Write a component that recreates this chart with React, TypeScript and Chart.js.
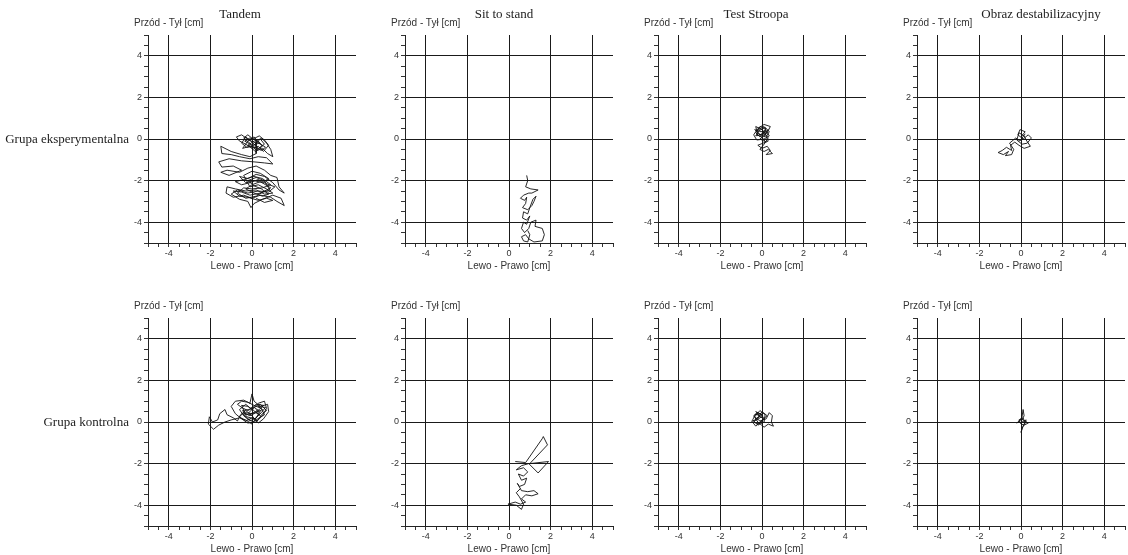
import React, { useEffect, useRef } from 'react';
import { Chart, registerables } from 'chart.js';

Chart.register(...registerables);

const columnTitles = ['Tandem', 'Sit to stand', 'Test Stroopa', 'Obraz destabilizacyjny'];
const rowLabels = ['Grupa eksperymentalna', 'Grupa kontrolna'];
const majorTicks = [-4, -2, 0, 2, 4];
const xAxisTitle = 'Lewo - Prawo [cm]';
const yAxisTitle = 'Przód - Tył [cm]';

// COP traces [x, y] in cm
const tandemExp: number[][] = [
  [0.1, -0.3], [0.3, -0.1], [0.5, -0.35], [0.2, -0.55], [-0.1, -0.2], [-0.4, 0.05], [-0.2, 0.2], [0.05, 0.0],
  [0.35, 0.15], [0.6, -0.05], [0.8, -0.3], [0.55, -0.6], [0.3, -0.35], [0.0, -0.45], [-0.3, -0.25], [-0.6, -0.1],
  [-0.75, 0.1], [-0.5, 0.2], [-0.15, -0.05], [0.2, -0.2], [0.45, 0.05], [0.7, -0.2], [0.9, -0.5], [1.0, -0.85],
  [0.75, -0.7], [0.5, -0.45], [0.15, -0.6], [-0.1, -0.35], [-0.45, -0.45], [-0.2, -0.1], [0.1, 0.1], [0.4, -0.25],
  [0.25, -0.15], [0.05, -0.35], [-0.25, -0.4], [-0.5, -0.2], [-0.3, 0.1], [0.0, -0.15], [0.3, -0.45], [0.6, -0.25],
  [0.4, 0.0], [0.1, -0.1], [-0.2, -0.3], [0.15, -0.4], [0.45, -0.55], [0.65, -0.4], [0.35, -0.2], [0.0, -0.3],
  [-0.35, -0.1], [-0.1, 0.05], [0.2, -0.05],
  [0.2, -0.7], [-0.1, -0.85], [-0.5, -0.75], [-1.0, -0.6], [-1.5, -0.35], [-1.45, -0.7], [-1.0, -0.75], [-0.6, -0.85],
  [-0.1, -0.95], [0.3, -0.85], [0.7, -0.9], [1.0, -1.2], [0.6, -1.15], [0.1, -1.1], [-0.5, -1.05], [-1.1, -0.95],
  [-1.6, -1.1], [-1.45, -1.35], [-0.9, -1.3], [-0.5, -1.5], [-1.1, -1.75], [-1.5, -1.6], [-1.2, -1.5], [-0.6, -1.6],
  [-0.2, -1.4], [0.2, -1.3], [0.6, -1.5], [0.9, -1.75], [1.2, -1.85], [1.3, -2.3], [1.55, -2.6], [1.3, -2.45],
  [1.0, -2.1], [0.6, -1.8], [0.2, -1.7], [-0.2, -1.9], [-0.6, -1.8], [-0.3, -2.1], [0.1, -2.0], [0.5, -2.1],
  [0.8, -1.9], [0.4, -1.65], [0.0, -1.55], [-0.4, -1.75], [-0.1, -2.3], [0.3, -2.2], [0.7, -2.4], [1.0, -2.6],
  [0.6, -2.65], [0.2, -2.45], [-0.3, -2.5], [-0.8, -2.4], [-1.2, -2.3], [-1.25, -2.6], [-0.9, -2.8], [-0.4, -2.7],
  [0.0, -2.85], [0.4, -2.7], [0.9, -2.8], [1.2, -3.0], [1.55, -3.2], [1.4, -2.85], [1.0, -2.7], [0.5, -2.9],
  [0.1, -3.1], [-0.05, -3.3], [-0.2, -3.0], [-0.6, -2.9], [-1.0, -2.65], [-0.7, -2.45], [-0.2, -2.6], [0.3, -2.5],
  [0.8, -2.55], [1.1, -2.3], [0.7, -2.15], [0.3, -1.95], [-0.1, -2.1], [-0.5, -2.2], [-0.8, -2.05], [-0.4, -1.95],
  [0.1, -1.8], [0.5, -1.9], [0.9, -2.2], [0.5, -2.35], [0.0, -2.4], [-0.4, -2.35], [-0.7, -2.6], [-0.3, -2.85],
  [0.2, -2.75], [0.6, -2.5], [0.9, -2.35], [0.4, -2.05], [0.0, -2.2], [-0.3, -2.4], [0.1, -2.6], [0.5, -2.75],
  [0.8, -2.65], [0.45, -2.4], [0.1, -2.25], [-0.2, -2.0], [0.2, -1.85], [0.6, -2.0], [0.85, -2.45], [0.4, -2.6],
  [-0.1, -2.7], [-0.5, -2.55], [-0.9, -2.5], [-0.6, -2.75], [-0.2, -2.8], [0.3, -2.95], [0.7, -2.85], [1.0, -2.95],
  [0.6, -3.05], [0.2, -2.85],
];

const sitExp: number[][] = [
  [0.85, -1.75], [0.9, -2.0], [0.8, -2.3], [1.05, -2.4], [1.4, -2.45], [1.1, -2.6], [0.95, -2.6], [0.7, -2.7],
  [0.55, -2.85], [0.75, -2.95], [0.85, -2.8], [0.8, -3.1], [0.65, -3.3], [0.9, -3.4], [1.1, -3.2], [1.2, -3.0],
  [1.3, -2.75], [1.15, -2.9], [1.0, -3.3], [0.9, -3.6], [0.7, -3.5], [0.65, -3.8], [0.85, -3.9], [1.0, -3.7],
  [0.85, -4.1], [0.7, -4.0], [0.6, -4.3], [0.75, -4.5], [0.95, -4.3], [1.05, -4.0], [1.3, -3.9], [1.25, -4.2],
  [1.6, -4.3], [1.7, -4.6], [1.6, -4.9], [1.2, -4.95], [0.95, -4.8], [0.8, -4.6], [0.6, -4.7], [0.7, -4.9],
  [0.9, -4.95], [1.0, -4.6], [0.9, -4.4],
];

const stroopExp: number[][] = [
  [0, 0.2], [0.2, 0.5], [-0.1, 0.6], [-0.3, 0.3], [-0.1, 0.1], [0.25, 0.3], [0.4, 0.6], [0.1, 0.7],
  [-0.2, 0.5], [-0.4, 0.2], [-0.25, -0.05], [0.1, 0.0], [0.35, 0.15], [0.2, 0.4], [-0.05, 0.35], [-0.35, 0.45],
  [-0.15, 0.25], [0.15, 0.1], [0.15, 0.55], [-0.15, 0.4], [-0.3, 0.15], [0.05, 0.25], [0.3, 0.45], [0.15, 0.2],
  [-0.1, 0.0], [0.2, -0.15], [0.0, 0.05], [-0.25, 0.4], [0.1, 0.6], [0.35, 0.35], [0.2, 0.1],
  [0.3, -0.1], [0.05, -0.2], [-0.2, -0.3], [0.0, -0.45], [0.25, -0.35], [0.4, -0.55],
  [0.2, -0.75], [0.5, -0.7], [0.3, -0.5], [0.1, -0.6], [-0.1, -0.5], [0.1, -0.25], [0.3, 0.05], [0.0, 0.45],
  [-0.3, 0.6], [-0.2, 0.15], [0.1, 0.3],
];

const obrazExp: number[][] = [
  [0, 0.1], [0.2, 0.35], [-0.05, 0.45], [-0.15, 0.2], [0.1, 0.0], [0.35, 0.2], [0.5, 0.05], [0.3, -0.2],
  [0.05, -0.25], [-0.2, -0.05], [-0.1, 0.3], [0.15, 0.15], [0.25, -0.05], [0.45, -0.35], [0.15, -0.45], [-0.1, -0.3],
  [-0.3, -0.15], [-0.5, -0.3], [-0.45, -0.55], [-0.7, -0.4], [-0.9, -0.55], [-1.1, -0.65], [-0.85, -0.75], [-0.6, -0.6],
  [-0.75, -0.8], [-0.45, -0.75], [-0.35, -0.5], [-0.55, -0.2], [-0.25, 0.05], [-0.05, -0.1], [0.2, 0.25],
];

const tandemCtrl: number[][] = [
  [-0.2, 0.4], [0.1, 0.7], [0.4, 0.5], [0.2, 0.2], [-0.1, 0.05], [-0.4, 0.3], [-0.6, 0.6], [-0.3, 0.85],
  [0.0, 0.6], [0.3, 0.9], [0.6, 1.0], [0.7, 0.65], [0.5, 0.3], [0.2, 0.0], [-0.2, -0.05], [-0.5, 0.15],
  [-0.8, 0.4], [-1.0, 0.75], [-0.8, 1.0], [-0.4, 1.05], [-0.1, 0.9], [0.0, 1.35], [0.1, 1.0], [0.4, 0.75],
  [0.75, 0.85], [0.8, 0.5], [0.55, 0.15], [0.3, -0.05], [0.0, 0.3], [-0.3, 0.55], [-0.55, 0.35], [-0.7, 0.05],
  [-0.9, 0.2], [-1.2, 0.35], [-1.3, 0.6], [-1.55, 0.4], [-1.65, 0.1], [-1.9, 0.0], [-2.05, 0.25], [-2.1, -0.1],
  [-1.85, -0.35], [-1.6, -0.15], [-1.3, 0.0], [-1.0, 0.1], [-0.6, 0.2], [-0.3, 0.1], [0.0, -0.1], [0.3, 0.35],
  [0.1, 0.55], [-0.2, 0.75], [-0.5, 0.8], [-0.35, 0.45], [0.05, 0.4], [0.35, 0.6], [0.55, 0.8], [0.2, 0.85],
  [-0.15, 0.6], [-0.45, 0.55], [-0.25, 0.25], [0.15, 0.15], [0.45, 0.45], [0.65, 0.7], [0.3, 0.75],
  [0.5, 0.6], [0.2, 0.45], [-0.1, 0.3], [-0.4, 0.45], [-0.6, 0.25], [-0.3, 0.05], [0.0, 0.2], [0.25, 0.05],
  [0.5, 0.4], [0.7, 0.55], [0.4, 0.85], [0.1, 0.7], [-0.2, 0.55], [-0.5, 0.7], [-0.7, 0.85], [-0.5, 1.0],
  [-0.2, 0.95], [0.1, 0.8], [0.45, 0.65], [0.6, 0.35], [0.35, 0.2], [0.05, 0.0], [-0.25, 0.2], [-0.45, 0.4],
  [-0.15, 0.35], [0.15, 0.5], [0.4, 0.3], [0.2, 0.6],
];

const sitCtrl: number[][] = [
  [0.3, -1.9], [0.8, -1.95], [1.6, -0.8], [1.65, -0.7], [1.85, -1.1], [1.0, -2.0], [1.9, -1.9], [1.4, -2.45],
  [0.95, -2.0], [0.6, -2.1], [0.35, -2.3], [0.7, -2.2], [0.9, -2.4], [0.7, -2.6], [0.45, -2.5], [0.6, -2.8],
  [0.85, -2.7], [0.75, -3.0], [0.5, -3.1], [0.4, -2.95], [0.6, -3.3], [0.9, -3.35], [1.2, -3.3], [1.4, -3.45],
  [1.1, -3.55], [0.8, -3.5], [0.6, -3.7], [0.8, -3.85], [0.55, -3.95], [0.3, -3.85], [-0.05, -3.95], [0.35, -4.0],
  [0.6, -4.2], [0.7, -3.95], [0.5, -3.6], [0.35, -3.4], [0.55, -3.2],
];

const stroopCtrl: number[][] = [
  [0, 0.2], [-0.3, 0.4], [-0.45, 0.1], [-0.2, -0.15], [0.1, 0.0], [0.15, 0.35], [-0.1, 0.55], [-0.35, 0.25],
  [-0.1, 0.05], [0.2, 0.15], [0.35, 0.45], [0.5, 0.3], [0.45, 0.0], [0.55, -0.2], [0.3, -0.1], [0.1, -0.25],
  [-0.2, 0.0], [-0.4, 0.3], [-0.2, 0.45], [0.05, 0.3], [-0.25, 0.1], [-0.5, 0.05], [-0.3, -0.2], [0.0, 0.1],
  [0.25, 0.3], [0.0, 0.5], [-0.15, 0.25], [-0.35, 0.1], [-0.1, 0.3], [-0.3, 0.5], [0.0, 0.35], [-0.2, 0.2],
  [-0.4, 0.0], [-0.15, -0.1], [0.1, 0.15], [-0.05, 0.4], [-0.35, 0.35],
];

const obrazCtrl: number[][] = [
  [0.05, 0.1], [0.15, 0.3], [0.1, 0.6], [0.05, 0.25], [-0.05, 0.05], [-0.2, -0.05], [0.0, 0.15], [0.2, 0.05],
  [0.35, -0.05], [0.15, -0.15], [0.0, -0.1], [-0.1, 0.1], [0.1, 0.2], [0.2, -0.05], [0.05, -0.3], [0.0, -0.5],
  [0.1, -0.2], [0.25, 0.1], [0.05, 0.0],
];

const panelData = [
  [tandemExp, sitExp, stroopExp, obrazExp],
  [tandemCtrl, sitCtrl, stroopCtrl, obrazCtrl],
];

const colCenters = [252, 509, 762, 1021];
const rowCenters = [138.5, 421.5];
const titleCenters = [240, 504, 756, 1041];
const UNIT = 20.8;
const PLOT = UNIT * 10;
const YW = 30;
const PADT = 12;
const PADR = 12;
const XH = 29;

const SANS = '"Liberation Sans", Arial, sans-serif';
const SERIF = '"Liberation Serif", "Times New Roman", serif';

function isMajor(v: number) {
  const r = Math.round(v);
  return Math.abs(v - r) < 1e-6 && majorTicks.includes(r);
}

function Panel({ points, left, top }: { points: number[][]; left: number; top: number }) {
  const ref = useRef<HTMLCanvasElement | null>(null);
  useEffect(() => {
    if (!ref.current) return;
    const gridColor = (ctx: any) => (ctx.tick && isMajor(ctx.tick.value) ? '#1a1a1a' : 'rgba(0,0,0,0)');
    const tickCb = (v: any) => (isMajor(Number(v)) ? String(Math.round(Number(v))) : '');
    const chart = new Chart(ref.current, {
      type: 'scatter',
      data: {
        datasets: [
          {
            data: points.map((p) => ({ x: p[0], y: p[1] })),
            showLine: true,
            borderColor: '#111',
            borderWidth: 0.9,
            pointRadius: 0,
            tension: 0,
          },
        ],
      },
      options: {
        animation: false,
        responsive: false,
        devicePixelRatio: 1,
        layout: { padding: { top: PADT, right: PADR, left: 0, bottom: 0 } },
        plugins: { legend: { display: false }, tooltip: { enabled: false } },
        scales: {
          x: {
            type: 'linear',
            min: -5,
            max: 5,
            afterFit: (s: any) => { s.height = XH; },
            ticks: { stepSize: 0.5, autoSkip: false, maxRotation: 0, callback: tickCb, color: '#333', font: { family: SANS, size: 9 }, padding: 1 },
            grid: { color: gridColor, lineWidth: 1, tickColor: '#333', tickLength: 4, drawTicks: true },
            border: { display: true, color: '#222', width: 1 },
            title: { display: true, text: xAxisTitle, color: '#333', font: { family: SANS, size: 10 }, padding: { top: 0, bottom: 0 } },
          },
          y: {
            type: 'linear',
            min: -5,
            max: 5,
            afterFit: (s: any) => { s.width = YW; },
            ticks: { stepSize: 0.5, autoSkip: false, callback: tickCb, color: '#333', font: { family: SANS, size: 9 }, padding: 2 },
            grid: { color: gridColor, lineWidth: 1, tickColor: '#333', tickLength: 4, drawTicks: true },
            border: { display: true, color: '#222', width: 1 },
          },
        },
      },
    } as any);
    return () => chart.destroy();
  }, [points]);
  const w = Math.round(YW + PLOT + PADR);
  const h = Math.round(PADT + PLOT + XH);
  return (
    <>
      <canvas ref={ref} width={w} height={h} style={{ position: 'absolute', left, top, width: w, height: h }} />
      <div style={{ position: 'absolute', left: left + YW - 14, top: top + PADT - 18, font: `10px ${SANS}`, color: '#333', whiteSpace: 'nowrap' }}>{yAxisTitle}</div>
    </>
  );
}

export default function App() {
  return (
    <div style={{ position: 'absolute', left: 0, top: 0, width: 1128, height: 555, background: '#fff' }}>
      {panelData.map((row, r) =>
        row.map((pts, c) => (
          <Panel
            key={`${r}-${c}`}
            points={pts}
            left={Math.round(colCenters[c] - PLOT / 2 - YW)}
            top={Math.round(rowCenters[r] - PLOT / 2 - PADT)}
          />
        ))
      )}
      {columnTitles.map((t, i) => (
        <div key={t} style={{ position: 'absolute', left: titleCenters[i] - 100, width: 200, top: 6, textAlign: 'center', font: `13px ${SERIF}`, color: '#222', whiteSpace: 'nowrap' }}>{t}</div>
      ))}
      {rowLabels.map((t, r) => (
        <div key={t} style={{ position: 'absolute', left: 0, width: 129, top: rowCenters[r] - 8, textAlign: 'right', font: `13px ${SERIF}`, color: '#222', whiteSpace: 'nowrap' }}>{t}</div>
      ))}
    </div>
  );
}
